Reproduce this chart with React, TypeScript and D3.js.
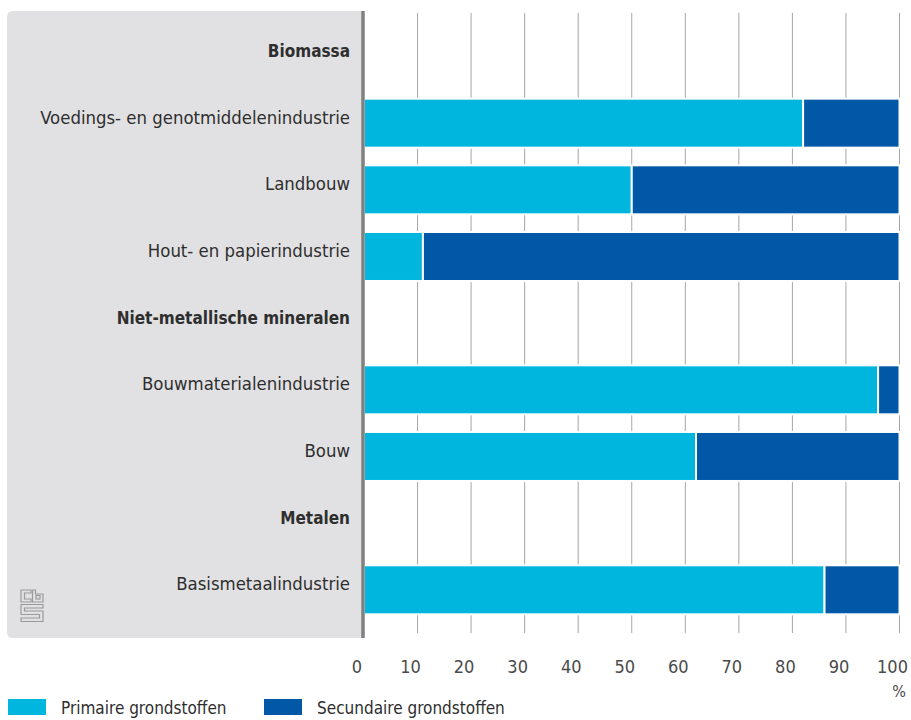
import React from "react";
import * as d3 from "d3";

const categories = [
  "Biomassa",
  "Voedings- en genotmiddelenindustrie",
  "Landbouw",
  "Hout- en papierindustrie",
  "Niet-metallische mineralen",
  "Bouwmaterialenindustrie",
  "Bouw",
  "Metalen",
  "Basismetaalindustrie",
];
const isHeader = [true, false, false, false, true, false, false, true, false];
const primaire: (number | null)[] = [null, 82, 50, 11, null, 96, 62, null, 86];
const secundaire: (number | null)[] = [null, 18, 50, 89, null, 4, 38, null, 14];
const tickValues = [0, 10, 20, 30, 40, 50, 60, 70, 80, 90, 100];
const seriesNames = ["Primaire grondstoffen", "Secundaire grondstoffen"];
const seriesColors = ["#00b6de", "#0058a6"];

const W = 911;
const H = 720;
const FONT = "'Liberation Sans Narrow', 'DejaVu Sans Condensed', 'Roboto', sans-serif";

export default function App() {
  const x = d3.scaleLinear().domain([0, 100]).range([364, 899.5]);
  const y = d3.scalePoint<string>().domain(categories).range([56.5, 589.8]);
  const barH = 49;

  const panelX = 7, panelY = 11, panelR = 362, panelB = 638, r = 6;
  const panelPath = `M${panelR},${panelY} H${panelX + r} Q${panelX},${panelY} ${panelX},${panelY + r} V${panelB - r} Q${panelX},${panelB} ${panelX + r},${panelB} H${panelR} Z`;

  return (
    <svg width={W} height={H} style={{ position: "absolute", left: 0, top: 0 }} fontFamily={FONT}>
      <rect x={0} y={0} width={W} height={H} fill="#ffffff" />
      <path d={panelPath} fill="#e1e1e3" />
      {/* grid lines */}
      {tickValues.filter((t) => t > 0).map((t) => (
        <line key={t} x1={x(t)} x2={x(t)} y1={13} y2={633} stroke="#a6a6a6" strokeWidth={1} />
      ))}
      {/* bars */}
      {categories.map((c, i) => {
        const p = primaire[i];
        const s = secundaire[i];
        if (p == null || s == null) return null;
        const yc = y(c)!;
        return (
          <g key={c}>
            <rect x={x(0)} y={yc - barH / 2} width={x(p) - x(0)} height={barH} fill={seriesColors[0]} stroke="#fff" strokeWidth={2} />
            <rect x={x(p)} y={yc - barH / 2} width={x(p + s) - x(p)} height={barH} fill={seriesColors[1]} stroke="#fff" strokeWidth={2} />
          </g>
        );
      })}
      {/* axis line */}
      <line x1={363} x2={363} y1={11} y2={638} stroke="#808080" strokeWidth={3.5} />
      {/* category labels */}
      {categories.map((c, i) => (
        <text
          key={c}
          x={350}
          y={y(c)! + 0.5}
          textAnchor="end"
          fontSize={isHeader[i] ? 17 : 18.4}
          fontWeight={isHeader[i] ? "bold" : "normal"}
          fill="#2e2e2e"
        >
          {c}
        </text>
      ))}
      {/* tick labels */}
      {tickValues.map((t) => (
        <text key={t} x={x(t) - 7} y={673} textAnchor="middle" fontSize={18} fill="#4a4a4a">
          {t}
        </text>
      ))}
      <text x={906} y={697} textAnchor="end" fontSize={16} fill="#4a4a4a">%</text>
      {/* legend */}
      {seriesNames.map((n, i) => (
        <g key={n} transform={`translate(${8 + i * 256},699)`}>
          <rect x={0} y={0} width={38} height={16} fill={seriesColors[i]} />
          <text x={53} y={15} fontSize={17} fill="#2e2e2e">{n}</text>
        </g>
      ))}
      {/* CBS logo */}
      <g fill="none" stroke="#9a9a9a" strokeWidth={1.2}>
        <path d="M31,593 V590 H21 V602 H31 V599 H24.5 V593 Z" />
        <path d="M32.5,590 H35.5 V594 H43 V602 H32.5 Z" />
        <rect x={36} y={595.5} width={4} height={3.5} />
        <path d="M21,604.5 H43 V608 H24.5 V611 H43 V621.5 H21 V618 H39.5 V614.5 H21 Z" />
      </g>
    </svg>
  );
}
